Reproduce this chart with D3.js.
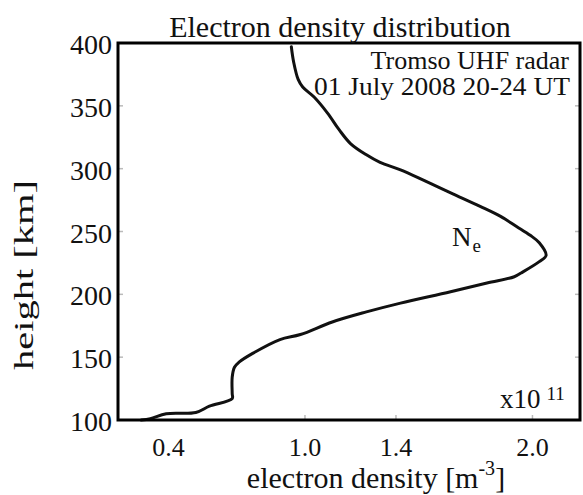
<!DOCTYPE html>
<html>
<head>
<meta charset="utf-8">
<script src="https://cdn.jsdelivr.net/npm/d3@7"></script>
<style>
  html, body { margin: 0; padding: 0; background: #fff; }
  svg { display: block; }
  text { font-family: "Liberation Serif", "DejaVu Serif", serif; fill: #111; }
</style>
</head>
<body>
<svg id="chart" width="583" height="495"></svg>
<script>
// Electron density profile (units of 1e11 m^-3) against height (km)
const density = [0.94, 0.95, 0.97, 0.99, 1.04, 1.10, 1.15, 1.20, 1.27, 1.33, 1.42, 1.53, 1.65, 1.77, 1.86, 1.93, 1.99, 2.03, 2.06, 2.03, 1.95, 1.92, 1.80, 1.64, 1.42, 1.27, 1.12, 0.98, 0.89, 0.77, 0.71, 0.69, 0.68, 0.68, 0.68, 0.58, 0.52, 0.39, 0.32, 0.28];
const height  = [397, 385, 371, 365, 357, 344, 331, 320, 311, 305, 299, 290, 280, 270, 262, 254, 247, 241, 231, 226, 217, 214, 209, 202, 193, 186, 178, 168, 164, 153, 146, 142, 134, 121, 117, 111, 106, 105, 101, 100];
const xTicks = [0.4, 1.0, 1.4, 2.0];
const xTickLabels = ["0.4", "1.0", "1.4", "2.0"];
const yTicks = [100, 150, 200, 250, 300, 350, 400];

const svg = d3.select("#chart");
const plotLeft = 118, plotRight = 580, plotTop = 43, plotBottom = 420;

const x = d3.scaleLinear().domain([0.178, 2.209]).range([plotLeft, plotRight]);
const y = d3.scaleLinear().domain([100, 400]).range([plotBottom, plotTop]);

// faint inner tick marks
const tickG = svg.append("g").attr("stroke", "#bbb").attr("stroke-width", 1.5);
tickG.selectAll(".yl").data(yTicks.slice(1, -1)).join("line")
  .attr("x1", plotLeft).attr("x2", plotLeft + 5).attr("y1", d => y(d)).attr("y2", d => y(d));
tickG.selectAll(".yr").data(yTicks.slice(1, -1)).join("line")
  .attr("x1", plotRight - 5).attr("x2", plotRight).attr("y1", d => y(d)).attr("y2", d => y(d));
tickG.selectAll(".xb").data(xTicks.slice(1)).join("line")
  .attr("x1", d => x(d)).attr("x2", d => x(d)).attr("y1", plotBottom - 5).attr("y2", plotBottom);

// profile curve
const line = d3.line().x((d, i) => x(density[i])).y((d, i) => y(height[i])).curve(d3.curveCatmullRom.alpha(0.5));
svg.append("path").datum(height).attr("d", line)
  .attr("fill", "none").attr("stroke", "#111").attr("stroke-width", 3)
  .attr("stroke-linejoin", "round").attr("stroke-linecap", "round");

// frame
svg.append("rect").attr("x", plotLeft).attr("y", plotTop)
  .attr("width", plotRight - plotLeft).attr("height", plotBottom - plotTop)
  .attr("fill", "none").attr("stroke", "#000").attr("stroke-width", 3);

// y tick labels
svg.selectAll(".ytl").data(yTicks).join("text")
  .attr("x", plotLeft - 6).attr("y", d => y(d) + 11)
  .attr("text-anchor", "end").attr("font-size", 28)
  .text(d => d);

// x tick labels
svg.selectAll(".xtl").data(xTicks).join("text")
  .attr("x", d => x(d)).attr("y", 456)
  .attr("text-anchor", "middle").attr("font-size", 26)
  .text((d, i) => xTickLabels[i]);

// title
svg.append("text").attr("x", 340).attr("y", 37).attr("text-anchor", "middle")
  .attr("font-size", 30).text("Electron density distribution");

// annotation
svg.append("text").attr("x", 569).attr("y", 69).attr("text-anchor", "end")
  .attr("font-size", 26).text("Tromso UHF radar");
svg.append("text").attr("x", 570).attr("y", 95).attr("text-anchor", "end")
  .attr("font-size", 26).attr("textLength", 256).attr("lengthAdjust", "spacingAndGlyphs")
  .text("01 July 2008 20-24 UT");

// curve label
const ne = svg.append("text").attr("x", 452).attr("y", 246).attr("font-size", 27);
ne.append("tspan").text("N");
ne.append("tspan").attr("font-size", 19).attr("dy", 6).attr("dx", 1).text("e");

// scale factor
const sf = svg.append("text").attr("x", 500).attr("y", 408).attr("font-size", 27);
sf.append("tspan").text("x10");
sf.append("tspan").attr("font-size", 19).attr("dy", -8).attr("dx", 6).text("11");

// axis titles
const xl = svg.append("text").attr("x", 376).attr("y", 488).attr("text-anchor", "middle").attr("font-size", 30);
xl.append("tspan").text("electron density [m");
xl.append("tspan").attr("font-size", 20).attr("dy", -13).text("-3");
xl.append("tspan").attr("dy", 13).text("]");

svg.append("text")
  .attr("transform", "translate(33,275) rotate(-90) scale(1.5,1)")
  .attr("text-anchor", "middle").attr("font-size", 27)
  .text("height [km]");
</script>
</body>
</html>
